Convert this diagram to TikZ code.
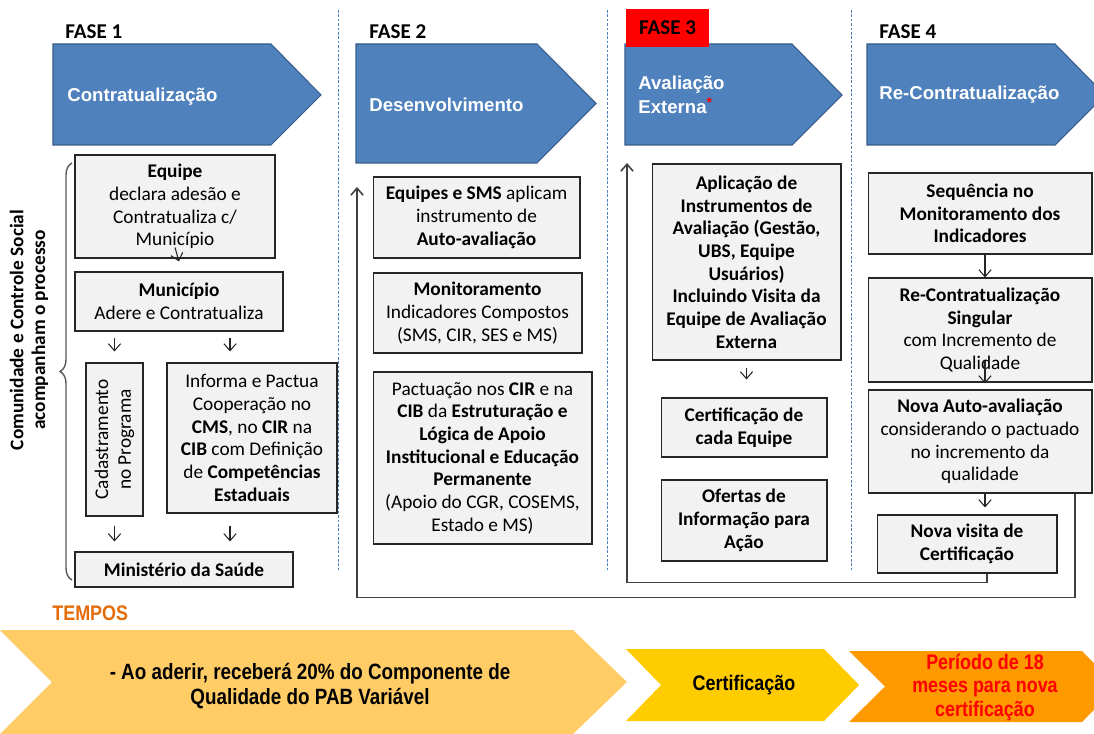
\documentclass[tikz,border=0pt]{standalone}
\usepackage{fontspec}
\setmainfont{Carlito}
\newfontfamily\arialfont{Liberation Sans}
\newfontfamily\narrowfont[FakeStretch=0.85]{Liberation Sans}
\usetikzlibrary{arrows.meta,calc,decorations.pathreplacing}

\definecolor{phaseblue}{HTML}{4F81BD}
\definecolor{phaseedge}{HTML}{385D8A}
\definecolor{boxgray}{HTML}{F2F2F2}
\definecolor{tempos}{HTML}{E46C0A}
\definecolor{chevA}{HTML}{FFCC66}
\definecolor{chevB}{HTML}{FFCC00}
\definecolor{chevC}{HTML}{FF9900}
\definecolor{loopgray}{HTML}{404040}

\begin{document}
\begin{tikzpicture}[
    x=0.02cm, y=-0.02cm,
    box/.style={rectangle, draw=black!85, line width=0.6pt, fill=boxgray, align=center, inner sep=1pt, font=\fontsize{11}{12.9}\selectfont},
    phase/.style={fill=phaseblue, draw=phaseedge, line width=0.6pt},
    phaselabel/.style={anchor=west, align=left, text=white, inner sep=0pt, font=\arialfont\bfseries\fontsize{10.6}{13.6}\selectfont},
    fase/.style={anchor=west, inner sep=0pt, font=\bfseries\fontsize{12}{14}\selectfont},
    sep/.style={phaseblue, line width=0.5pt, dash pattern=on 1.5pt off 1pt},
    arrow/.style={-{Straight Barb[length=4pt,width=7pt]}, line width=0.6pt, black!85},
    loopline/.style={-{Straight Barb[length=4pt,width=7pt]}, line width=0.9pt, loopgray},
    tempo/.style={align=center, inner sep=0pt, font=\narrowfont\bfseries\fontsize{12}{13.4}\selectfont}
]
\useasboundingbox (0,0) rectangle (1094,733);
\fill[white] (0,0) rectangle (1094,733);

% separators between phases
\draw[sep] (338,10) -- (338,570);
\draw[sep] (607,10) -- (607,570);
\draw[sep] (851,10) -- (851,570);

% phase arrows
\filldraw[phase] (53,44) -- (271,44) -- (321,95) -- (271,145) -- (53,145) -- cycle;
\filldraw[phase] (356,44) -- (537,44) -- (596,103.5) -- (537,163) -- (356,163) -- cycle;
\filldraw[phase] (625,44) -- (792,44) -- (842,95) -- (792,145) -- (625,145) -- cycle;
\filldraw[phase] (867,44) -- (1055,44) -- (1105,95) -- (1055,145) -- (867,145) -- cycle;

\node[phaselabel] (lbl1) at (67,97) {Contratualização};
\node[phaselabel] (lbl2) at (369,105) {Desenvolvimento};
\node[phaselabel] (lbl3) at (638,95) {Avaliação\\Externa\textcolor{red}{\raisebox{3.5pt}{\fontsize{8}{8}\selectfont *}}};
\node[phaselabel] (lbl4) at (879,95) {Re-Contratualização};

% phase titles
\node[fase] (fase1) at (65,32) {FASE 1};
\node[fase] (fase2) at (369,32) {FASE 2};
\node[fase, anchor=center, fill=red, minimum width=1.66cm, minimum height=0.76cm] (fase3) at (667.5,28) {FASE 3};
\node[fase] (fase4) at (879,32) {FASE 4};

% side note
\draw[decorate, decoration={brace, amplitude=0.24cm}, black!65, line width=0.8pt] (72,580) -- (72,163);
\node[rotate=90, align=center, inner sep=0pt, font=\bfseries\fontsize{11}{12.5}\selectfont] (comunidade) at (29,330) {Comunidade e Controle Social\\acompanham o processo};

% Fase 1
\node[box, minimum width=4cm, minimum height=2.06cm] (equipe) at (175,206.5) {\textbf{Equipe}\\declara adesão e\\Contratualiza c/\\Município};
\node[box, minimum width=4.16cm, minimum height=1.18cm] (municipio) at (179,301.5) {\textbf{Município}\\Adere e Contratualiza};
\node[box, minimum width=1.14cm, minimum height=3.06cm] (cad) at (114.5,439.5) {};
\node[rotate=90, align=center, inner sep=0pt, font=\fontsize{11}{12.9}\selectfont] (cadtxt) at (cad) {Cadastramento\\no Programa};
\node[box, minimum width=3.4cm, minimum height=3cm] (informa) at (252,438) {Informa e Pactua\\Cooperação no\\\textbf{CMS}, no \textbf{CIR} na\\\textbf{CIB} com Definição\\de \textbf{Competências}\\\textbf{Estaduais}};
\node[box, minimum width=4.36cm, minimum height=0.7cm] (ministerio) at (184,569.5) {\textbf{Ministério da Saúde}};

\draw[arrow] ([yshift=0.22cm]equipe.south) -- ([yshift=0.2cm]municipio.north);
\draw[arrow, shorten <=0.12cm, shorten >=0.22cm] (municipio.south -| cad.north) -- (cad.north);
\draw[arrow, shorten <=0.12cm, shorten >=0.22cm] ($(municipio.south)+(51,0)$) -- ($(informa.north)+(-22,0)$);
\draw[arrow, shorten <=0.18cm, shorten >=0.2cm] (cad.south) -- (cad.south |- ministerio.north);
\draw[arrow, shorten <=0.24cm, shorten >=0.2cm] ($(informa.south)+(-22,0)$) -- ($(ministerio.north)+(46,0)$);

% Fase 2
\node[box, minimum width=4.14cm, minimum height=1.62cm] (autoav) at (476.5,217.5) {\textbf{Equipes e SMS} aplicam\\instrumento de\\\textbf{Auto-avaliação}};
\node[box, minimum width=4.18cm, minimum height=1.6cm] (monit) at (477.5,313) {\textbf{Monitoramento}\\Indicadores Compostos\\(SMS, CIR, SES e MS)};
\node[box, minimum width=4.38cm, minimum height=3.44cm] (pactua) at (482.5,458) {Pactuação nos \textbf{CIR} e na\\\textbf{CIB} da \textbf{Estruturação e}\\\textbf{Lógica de Apoio}\\\textbf{Institucional e Educação}\\\textbf{Permanente}\\(Apoio do CGR, COSEMS,\\Estado e MS)};

% Fase 3
\node[box, minimum width=3.78cm, minimum height=3.92cm, font=\bfseries\fontsize{11}{12.9}\selectfont] (aplic) at (746.5,262) {Aplicação de\\Instrumentos de\\Avaliação (Gestão,\\UBS, Equipe\\Usuários)\\Incluindo Visita da\\Equipe de Avaliação\\Externa};
\node[box, minimum width=3.32cm, minimum height=1.18cm, font=\bfseries\fontsize{11}{12.9}\selectfont] (certif) at (744,427.5) {Certificação de\\cada Equipe};
\node[box, minimum width=3.32cm, minimum height=1.62cm, font=\bfseries\fontsize{11}{12.9}\selectfont] (ofertas) at (744,520.5) {Ofertas de\\Informação para\\Ação};

\draw[arrow, shorten <=0.14cm, shorten >=0.36cm] (aplic.south) -- (aplic.south |- certif.north);

% Fase 4
\node[box, minimum width=4.48cm, minimum height=1.62cm, font=\bfseries\fontsize{11}{12.9}\selectfont] (sequencia) at (980,213.5) {Sequência no\\Monitoramento dos\\Indicadores};
\node[box, minimum width=4.48cm, minimum height=2.08cm] (recontr) at (980,330) {\textbf{Re-Contratualização}\\\textbf{Singular}\\com Incremento de\\Qualidade};
\node[box, minimum width=4.48cm, minimum height=2.06cm] (novaauto) at (980,441.5) {\textbf{Nova Auto-avaliação}\\considerando o pactuado\\no incremento da\\qualidade};
\node[box, minimum width=3.6cm, minimum height=1.16cm, font=\bfseries\fontsize{11}{12.9}\selectfont] (novavis) at (967,544) {Nova visita de\\Certificação};

\draw[arrow] ($(sequencia.south)+(5,0)$) -- ($(recontr.north)+(5,0)$);
\draw[arrow, shorten >=0.12cm] ($(recontr.south)+(5,-22)$) -- ($(novaauto.north)+(5,0)$);
\draw[arrow, shorten >=0.14cm] ($(novaauto.south)+(5,0)$) -- ($(novavis.north)+(18,0)$);

% feedback loops
\coordinate (backA) at (357,187);
\coordinate (backB) at (627,163);
\draw[loopline] ($(novaauto.south)+(95,0)$) -- ++(0,104) -| (backA);
\draw[loopline] ($(novavis.south)+(20,0)$) -- ++(0,9) -| (backB);

% tempos
\node[tempo, anchor=west, text=tempos] (tempos) at (52,613) {TEMPOS};
\fill[chevA] (0,630) -- (573,630) -- (627,682) -- (573,734) -- (0,734) -- (52,682) -- cycle;
\fill[chevB] (626,649) -- (824,649) -- (859,685) -- (824,721) -- (626,721) -- (661,685) -- cycle;
\fill[chevC] (849,651) -- (1082,651) -- (1117,686.5) -- (1082,722) -- (849,722) -- (885,686.5) -- cycle;
\node[tempo, font=\narrowfont\bfseries\fontsize{12.6}{14}\selectfont] (tempo1) at (310,686) {- Ao aderir, receberá 20\% do Componente de\\Qualidade do PAB Variável};
\node[tempo] (tempo2) at (744,685) {Certificação};
\node[tempo, text=red] (tempo3) at (985,687) {Período de 18\\meses para nova\\certificação};

\end{tikzpicture}
\end{document}
